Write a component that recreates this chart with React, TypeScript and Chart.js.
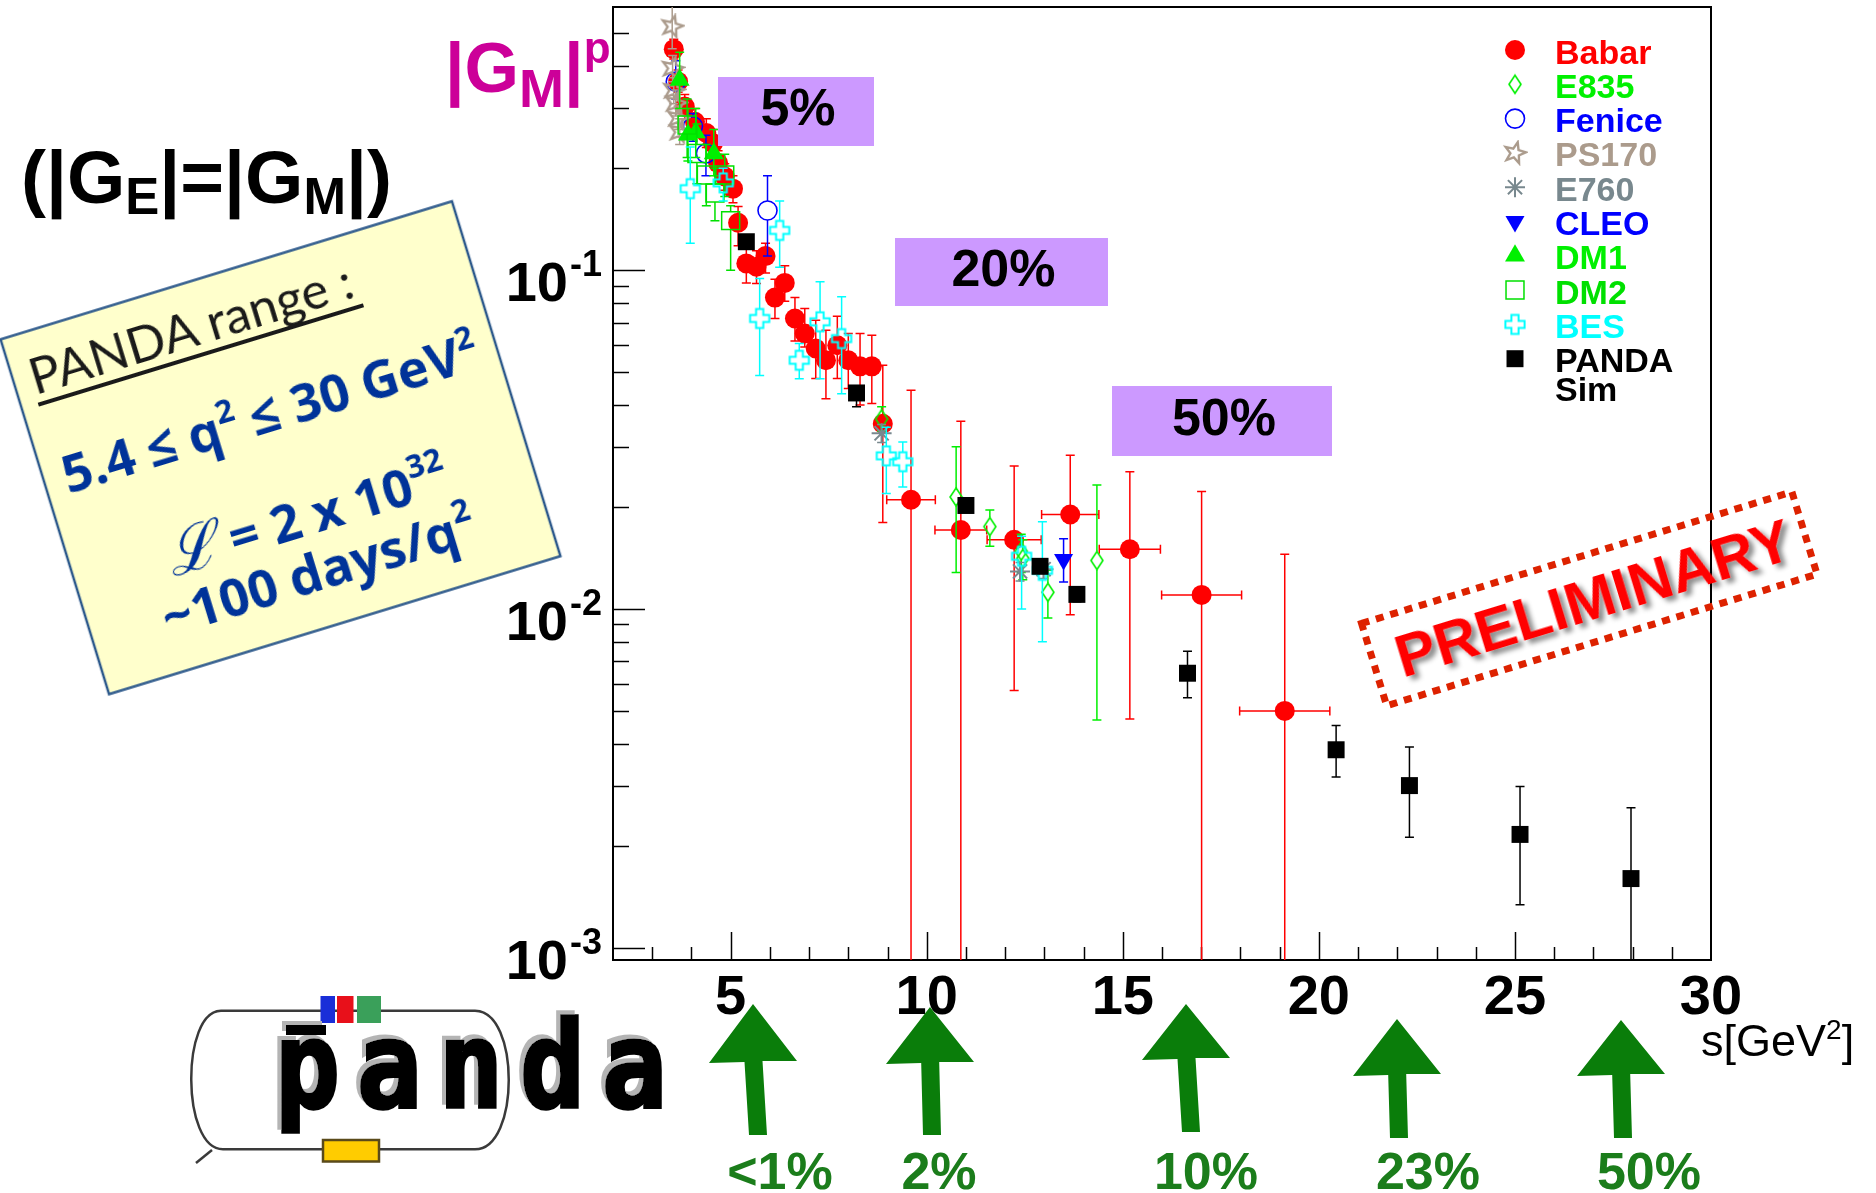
import React, { useEffect, useRef } from 'react';
import { Chart, registerables } from 'chart.js';
import { drawPoint } from 'chart.js/helpers';

Chart.register(...registerables);

// ---------------- data ----------------
const seriesNames = ['Babar', 'E835', 'Fenice', 'PS170', 'E760', 'CLEO', 'DM1', 'DM2', 'BES', 'PANDA Sim'];

const babarS = [3.55, 3.66, 3.83, 4.09, 4.38, 4.55, 4.68, 4.85, 5.06, 5.19, 5.40, 5.66, 5.89, 6.13, 6.38, 6.64, 6.89, 7.17, 7.43, 7.72, 8.00, 8.30, 8.60, 8.88, 9.60, 10.87, 12.23, 13.66, 15.18, 17.01, 19.13];
const babarG = [0.449, 0.360, 0.304, 0.274, 0.254, 0.237, 0.207, 0.189, 0.174, 0.138, 0.1047, 0.1023, 0.110, 0.083, 0.0917, 0.072, 0.065, 0.0587, 0.0542, 0.060, 0.0542, 0.052, 0.052, 0.0352, 0.0210, 0.0171, 0.0160, 0.0190, 0.0150, 0.0110, 0.0050];
const babarLo = [0.42, 0.335, 0.28, 0.25, 0.23, 0.215, 0.19, 0.172, 0.158, 0.118, 0.0917, 0.0913, 0.098, 0.072, 0.081, 0.0618, 0.0593, 0.0479, 0.0417, 0.0479, 0.0447, 0.040, 0.0404, 0.018, 0, 0, 0.00574, 0.00962, 0.00473, 0, 0];
const babarHi = [0.48, 0.39, 0.33, 0.30, 0.28, 0.26, 0.225, 0.206, 0.19, 0.154, 0.118, 0.114, 0.12, 0.094, 0.103, 0.083, 0.077, 0.0711, 0.0665, 0.0731, 0.065, 0.065, 0.0642, 0.0524, 0.0442, 0.0358, 0.0264, 0.0284, 0.0254, 0.0222, 0.0145];
const babarSErr = [0, 0, 0, 0, 0, 0, 0, 0, 0, 0, 0, 0, 0, 0, 0, 0, 0, 0, 0, 0, 0, 0, 0, 0, 0.62, 0.66, 0.69, 0.73, 0.78, 1.02, 1.15];

const e835S = [8.85, 10.75, 11.61, 12.41, 12.45, 13.09, 14.34];
const e835G = [0.0364, 0.0214, 0.0175, 0.0148, 0.0141, 0.0112, 0.0139];
const e835Lo = [0.0335, 0.0128, 0.0153, 0.0128, 0.0122, 0.0094, 0.0047];
const e835Hi = [0.0395, 0.0301, 0.0196, 0.0166, 0.0160, 0.0130, 0.0232];

const feniceS = [3.60, 4.04, 4.37, 5.94];
const feniceG = [0.360, 0.266, 0.221, 0.150];
const feniceLo = [0.32, 0.24, 0.19, 0.11];
const feniceHi = [0.415, 0.29, 0.25, 0.19];

const ps170S = [3.51, 3.52, 3.55, 3.60, 3.66, 3.70];
const ps170G = [0.524, 0.395, 0.340, 0.311, 0.281, 0.256];
const ps170Lo = [0.45, 0.36, 0.31, 0.285, 0.26, 0.235];
const ps170Hi = [0.70, 0.43, 0.37, 0.34, 0.305, 0.28];

const e760S = [8.85, 12.38, 12.98];
const e760G = [0.0330, 0.0129, 0.0131];
const e760Lo = [0.031, 0.0121, 0.0123];
const e760Hi = [0.035, 0.0137, 0.0140];

const cleoS = [13.49];
const cleoG = [0.0140];
const cleoLo = [0.0120];
const cleoHi = [0.0161];

const dm1S = [3.70, 3.91, 4.11, 4.57];
const dm1G = [0.364, 0.251, 0.255, 0.221];
const dm1Lo = [0.30, 0.21, 0.215, 0.19];
const dm1Hi = [0.44, 0.30, 0.30, 0.26];

const dm2S = [3.89, 4.14, 4.38, 4.60, 4.85, 5.00];
const dm2G = [0.268, 0.221, 0.191, 0.169, 0.191, 0.140];
const dm2Lo = [0.215, 0.18, 0.155, 0.14, 0.165, 0.10];
const dm2Hi = [0.32, 0.27, 0.235, 0.20, 0.22, 0.155];

const besS = [3.97, 4.81, 5.74, 6.25, 6.75, 7.28, 7.83, 8.97, 9.39, 12.42, 12.95];
const besG = [0.174, 0.181, 0.072, 0.131, 0.0542, 0.0704, 0.0628, 0.0283, 0.0272, 0.0143, 0.0130];
const besLo = [0.12, 0.16, 0.0489, 0.102, 0.0478, 0.0478, 0.0432, 0.0219, 0.0229, 0.0100, 0.0080];
const besHi = [0.231, 0.20, 0.0945, 0.16, 0.0607, 0.0924, 0.0834, 0.0344, 0.0311, 0.0164, 0.0181];

const pandaS = [5.40, 8.21, 11.00, 12.89, 13.83, 16.65, 20.44, 22.31, 25.13, 27.96];
const pandaG = [0.1213, 0.0434, 0.0202, 0.01336, 0.01104, 0.00646, 0.00384, 0.00301, 0.00216, 0.00160];
const pandaLo = [0.1185, 0.0395, 0.0196, 0.0130, 0.0105, 0.00547, 0.00319, 0.00212, 0.00134, 0];
const pandaHi = [0.124, 0.0456, 0.0208, 0.0137, 0.0116, 0.0075, 0.00453, 0.00391, 0.00299, 0.00259];

const xTickLabels = [5, 10, 15, 20, 25, 30];
const yTickExponents = [-1, -2, -3];
const precisionLabels = ['5%', '20%', '50%'];
const arrowLabels = ['<1%', '2%', '10%', '23%', '50%'];

// ---------------- styles ----------------
const ARIAL = '"Liberation Sans", Arial, Helvetica, sans-serif';
const C = {
  babar: '#ff0000', e835: '#00f000', fenice: '#0000ff', ps170: '#ab9b8c', e760: '#78888e',
  cleo: '#0000ff', dm1: '#00f000', dm2: '#00e000', bes: '#00ffff', panda: '#000000',
};

function makeCanvas(w: number, h: number, draw: (c: CanvasRenderingContext2D) => void) {
  const c = document.createElement('canvas');
  c.width = w; c.height = h;
  draw(c.getContext('2d') as CanvasRenderingContext2D);
  return c;
}

function pts(s: number[], g: number[], lo: number[], hi: number[], se?: number[]) {
  return s.map((x, i) => ({
    x, y: g[i], yl: lo[i], yh: hi[i],
    xl: se && se[i] > 0 ? x - se[i] : null,
    xh: se && se[i] > 0 ? x + se[i] : null,
  }));
}

const errorBarPlugin = {
  id: 'errorBars',
  beforeDatasetDraw(chart: any, args: any) {
    const ds = chart.data.datasets[args.index];
    const { ctx, chartArea: ca } = chart;
    const xs = chart.scales.x, ys = chart.scales.y;
    const gap = ds.errGap || 0;
    const cap = 4.5;
    ctx.save();
    ctx.beginPath();
    ctx.rect(ca.left, ca.top, ca.right - ca.left, ca.bottom - ca.top);
    ctx.clip();
    ctx.strokeStyle = ds.seriesColor;
    ctx.lineWidth = 1.5;
    ds.data.forEach((p: any) => {
      const px = xs.getPixelForValue(p.x), py = ys.getPixelForValue(p.y);
      ctx.beginPath();
      if (p.yh != null && p.yh > p.y) {
        const t = ys.getPixelForValue(p.yh);
        if (py - gap > t) { ctx.moveTo(px, py - gap); ctx.lineTo(px, t); }
        ctx.moveTo(px - cap, t); ctx.lineTo(px + cap, t);
      }
      if (p.yl != null && p.yl < p.y) {
        const b = p.yl > 0 ? ys.getPixelForValue(p.yl) : ca.bottom + 2;
        if (py + gap < b) { ctx.moveTo(px, py + gap); ctx.lineTo(px, b); }
        if (p.yl > 0) { ctx.moveTo(px - cap, b); ctx.lineTo(px + cap, b); }
      }
      if (p.xl != null) {
        const l = xs.getPixelForValue(p.xl), r = xs.getPixelForValue(p.xh);
        ctx.moveTo(l, py); ctx.lineTo(px - gap, py);
        ctx.moveTo(px + gap, py); ctx.lineTo(r, py);
        ctx.moveTo(l, py - cap); ctx.lineTo(l, py + cap);
        ctx.moveTo(r, py - cap); ctx.lineTo(r, py + cap);
      }
      ctx.stroke();
    });
    ctx.restore();
  },
};

const axesPlugin = {
  id: 'rootAxes',
  beforeDatasetsDraw(chart: any) {
    const { ctx, chartArea: ca } = chart;
    const xs = chart.scales.x, ys = chart.scales.y;
    ctx.save();
    ctx.strokeStyle = '#000';
    ctx.lineWidth = 1.5;
    for (let v = Math.ceil(xs.min); v <= xs.max; v++) {
      if (v <= xs.min || v >= xs.max) continue;
      const px = Math.round(xs.getPixelForValue(v)) + 0.5;
      const len = v % 5 === 0 ? 28 : 13;
      ctx.beginPath(); ctx.moveTo(px, ca.bottom); ctx.lineTo(px, ca.bottom - len); ctx.stroke();
    }
    for (let e = -4; e <= 0; e++) {
      for (let m = 1; m <= 9; m++) {
        const v = m * Math.pow(10, e);
        if (v <= ys.min || v >= ys.max) continue;
        const py = Math.round(ys.getPixelForValue(v)) + 0.5;
        const len = m === 1 ? 32 : 16;
        ctx.beginPath(); ctx.moveTo(ca.left, py); ctx.lineTo(ca.left + len, py); ctx.stroke();
      }
    }
    ctx.lineWidth = 2;
    ctx.strokeRect(ca.left, ca.top, ca.right - ca.left, ca.bottom - ca.top);

    ctx.fillStyle = '#000';
    ctx.textBaseline = 'alphabetic';
    ctx.font = `bold 56px ${ARIAL}`;
    ctx.textAlign = 'center';
    xTickLabels.forEach((v) => ctx.fillText(String(v), xs.getPixelForValue(v), ca.bottom + 54));
    yTickExponents.forEach((e) => {
      const py = ys.getPixelForValue(Math.pow(10, e));
      ctx.font = `bold 56px ${ARIAL}`;
      ctx.textAlign = 'right';
      ctx.fillText('10', ca.left - 45, py + 31);
      ctx.font = `bold 36px ${ARIAL}`;
      ctx.textAlign = 'left';
      ctx.fillText('-' + String(Math.abs(e)), ca.left - 43, py + 6);
    });
    ctx.restore();
  },
};

const legendPlugin = {
  id: 'rootLegend',
  afterDatasetsDraw(chart: any) {
    const { ctx, chartArea: ca } = chart;
    const mx = ca.right - 196, tx = ca.right - 156;
    const maxW = ca.right - tx - 4;
    ctx.save();
    ctx.textBaseline = 'alphabetic';
    ctx.textAlign = 'left';
    chart.data.datasets.forEach((ds: any, i: number) => {
      const y = ca.top + 43 + i * 34.3;
      ctx.fillStyle = ds.backgroundColor;
      ctx.strokeStyle = ds.borderColor;
      ctx.lineWidth = ds.pointBorderWidth;
      drawPoint(ctx, {
        pointStyle: ds.pointStyle, radius: ds.pointRadius, rotation: ds.pointRotation || 0,
        borderWidth: ds.pointBorderWidth,
      } as any, mx, y);
      ctx.font = `bold 34px ${ARIAL}`;
      ctx.fillStyle = ds.seriesColor;
      const lines: string[] = [];
      ds.label.split(' ').forEach((w: string) => {
        const last = lines.length ? lines[lines.length - 1] : null;
        if (last !== null && ctx.measureText(last + ' ' + w).width <= maxW) lines[lines.length - 1] = last + ' ' + w;
        else lines.push(w);
      });
      lines.forEach((ln, k) => ctx.fillText(ln, tx, y + 13.5 + k * 29));
    });
    ctx.restore();
  },
};

function arrowPoints(tx: number, ty: number, baseY: number, bx: number, by: number) {
  const hw = 44, sw = 9;
  const sx = tx + (bx - tx) * 0.1;
  return [
    [tx, ty], [tx + hw, baseY - 1], [sx + sw, baseY - 1], [bx + sw, by], [bx - sw, by],
    [sx - sw, baseY], [tx - hw, baseY + 1],
  ].map((p) => p.join(',')).join(' ');
}

const arrows = [
  { tx: 753, ty: 1004, baseY: 1062, bx: 758, by: 1135, lx: 780 },
  { tx: 930, ty: 1007, baseY: 1063, bx: 932, by: 1135, lx: 939 },
  { tx: 1186, ty: 1004, baseY: 1059, bx: 1191, by: 1132, lx: 1206 },
  { tx: 1397, ty: 1019, baseY: 1075, bx: 1399, by: 1138, lx: 1428 },
  { tx: 1621, ty: 1020, baseY: 1075, bx: 1623, by: 1138, lx: 1649 },
];

const purpleBoxes = [
  { x: 718, y: 77, w: 156, h: 69 },
  { x: 895, y: 238, w: 213, h: 68 },
  { x: 1112, y: 386, w: 220, h: 70 },
];

export default function App() {
  const ref = useRef<HTMLCanvasElement>(null);

  useEffect(() => {
    const diamond = makeCanvas(16, 22, (c) => {
      c.strokeStyle = C.e835; c.lineWidth = 1.6;
      c.beginPath(); c.moveTo(8, 2); c.lineTo(14, 11); c.lineTo(8, 20); c.lineTo(2, 11); c.closePath(); c.stroke();
    });
    const star5 = makeCanvas(26, 26, (c) => {
      c.strokeStyle = C.ps170; c.lineWidth = 2.4;
      c.beginPath();
      for (let k = 0; k < 10; k++) {
        const r = k % 2 === 0 ? 11 : 4.6;
        const a = -Math.PI / 2 + 0.25 + (k * Math.PI) / 5;
        const px = 13 + r * Math.cos(a), py = 13 + r * Math.sin(a);
        if (k === 0) c.moveTo(px, py); else c.lineTo(px, py);
      }
      c.closePath(); c.stroke();
    });
    const openCross = makeCanvas(24, 24, (c) => {
      const a = 3.6, L = 9.6, o = 12;
      const p = [[-a, -L], [a, -L], [a, -a], [L, -a], [L, a], [a, a], [a, L], [-a, L], [-a, a], [-L, a], [-L, -a], [-a, -a]];
      c.strokeStyle = C.bes; c.lineWidth = 2;
      c.beginPath();
      p.forEach(([x, y], i) => (i ? c.lineTo(o + x, o + y) : c.moveTo(o + x, o + y)));
      c.closePath(); c.stroke();
    });

    const defs = [
      { data: pts(babarS, babarG, babarLo, babarHi, babarSErr), color: C.babar, style: 'circle', r: 10, fill: C.babar, bw: 0, gap: 0 },
      { data: pts(e835S, e835G, e835Lo, e835Hi), color: C.e835, style: diamond, r: 9, fill: 'rgba(0,0,0,0)', bw: 0, gap: 9 },
      { data: pts(feniceS, feniceG, feniceLo, feniceHi), color: C.fenice, style: 'circle', r: 9.5, fill: 'rgba(0,0,0,0)', bw: 1.6, gap: 9.5 },
      { data: pts(ps170S, ps170G, ps170Lo, ps170Hi), color: C.ps170, style: star5, r: 10, fill: 'rgba(0,0,0,0)', bw: 0, gap: 0 },
      { data: pts(e760S, e760G, e760Lo, e760Hi), color: C.e760, style: 'star', r: 10, fill: 'rgba(0,0,0,0)', bw: 2, gap: 0 },
      { data: pts(cleoS, cleoG, cleoLo, cleoHi), color: C.cleo, style: 'triangle', r: 11, fill: C.cleo, bw: 0, gap: 0, rot: 180 },
      { data: pts(dm1S, dm1G, dm1Lo, dm1Hi), color: C.dm1, style: 'triangle', r: 11.5, fill: C.dm1, bw: 0, gap: 0 },
      { data: pts(dm2S, dm2G, dm2Lo, dm2Hi), color: C.dm2, style: 'rect', r: 12.7, fill: 'rgba(0,0,0,0)', bw: 1.5, gap: 9 },
      { data: pts(besS, besG, besLo, besHi), color: C.bes, style: openCross, r: 10, fill: 'rgba(0,0,0,0)', bw: 0, gap: 9.6 },
      { data: pts(pandaS, pandaG, pandaLo, pandaHi), color: C.panda, style: 'rect', r: 12, fill: C.panda, bw: 0, gap: 0 },
    ];

    const datasets = defs.map((d, i) => ({
      label: seriesNames[i],
      data: d.data,
      seriesColor: d.color,
      errGap: d.gap,
      order: defs.length - i,
      showLine: false,
      pointStyle: d.style as any,
      pointRadius: d.r,
      pointHoverRadius: d.r,
      pointRotation: (d as any).rot || 0,
      pointBorderWidth: d.bw,
      pointBackgroundColor: d.fill,
      pointBorderColor: d.color,
      backgroundColor: d.fill,
      borderColor: d.color,
      clip: 0,
    }));

    const chart = new Chart(ref.current as HTMLCanvasElement, {
      type: 'scatter',
      data: { datasets: datasets as any },
      options: {
        animation: false,
        responsive: false,
        devicePixelRatio: 1,
        events: [],
        layout: { autoPadding: false, padding: { left: 613, top: 7, right: 165, bottom: 233 } },
        plugins: { legend: { display: false }, tooltip: { enabled: false } },
        scales: {
          x: { type: 'linear', min: 2, max: 30, display: false },
          y: { type: 'logarithmic', min: 0.00092, max: 0.598, display: false },
        },
      },
      plugins: [axesPlugin, errorBarPlugin, legendPlugin],
    } as any);
    return () => chart.destroy();
  }, []);

  const blue = '#003399';
  const openSans = '"Open Sans", "Noto Sans", sans-serif';
  return (
    <div style={{ position: 'absolute', left: 0, top: 0, width: 1876, height: 1193, overflow: 'hidden', background: '#fff' }}>
      <canvas ref={ref} width={1876} height={1193} style={{ position: 'absolute', left: 0, top: 0, width: 1876, height: 1193 }} />
      <svg width={1876} height={1193} style={{ position: 'absolute', left: 0, top: 0, pointerEvents: 'none' }}>
        <defs>
          <filter id="prelimShadow" x="-10%" y="-40%" width="125%" height="190%">
            <feDropShadow dx="4" dy="5" stdDeviation="2.5" floodColor="#000" floodOpacity="0.45" />
          </filter>
          <filter id="pandaShadow" x="-10%" y="-10%" width="120%" height="120%">
            <feDropShadow dx="-4" dy="-4" stdDeviation="0" floodColor="#b4b4b4" floodOpacity="1" />
          </filter>
        </defs>

        {/* axis title */}
        <text x={445} y={92} fill="#cc0099" fontFamily={ARIAL} fontWeight="bold" fontSize={70}>
          |G<tspan fontSize={54} dy={15}>M</tspan><tspan dy={-15}>|</tspan><tspan fontSize={44} dy={-29}>p</tspan>
        </text>
        <text x={21} y={203} fill="#000" fontFamily={ARIAL} fontWeight="bold" fontSize={75}>
          (|G<tspan fontSize={51} dy={11}>E</tspan><tspan dy={-11}>|=|G</tspan><tspan fontSize={51} dy={11}>M</tspan><tspan dy={-11}>|)</tspan>
        </text>

        {/* PANDA range box */}
        <g transform="translate(280.5 447.75) rotate(-17)">
          <rect x={-236} y={-185.5} width={472} height={371} fill="#ffffcc" stroke="#2e5a8c" strokeWidth={2.5} />
          <text x={-219} y={-122} fill="#1a1a1a" fontFamily='Lato, "Open Sans", sans-serif' fontSize={51}>PANDA range :</text>
          <line x1={-219} y1={-112} x2={121} y2={-112} stroke="#1a1a1a" strokeWidth={4} />
          <text x={0} y={-18} fill={blue} fontFamily={openSans} fontWeight={700} fontSize={52} textAnchor="middle">
            {'5.4 ≤ q'}<tspan fontSize={32} dy={-22}>2</tspan><tspan dy={22}>{' ≤ 30 GeV'}</tspan><tspan fontSize={32} dy={-22}>2</tspan>
          </text>
          <text x={5} y={92} fill={blue} fontFamily={openSans} fontWeight={700} fontSize={52} textAnchor="middle">
            <tspan fontFamily='"DejaVu Serif", serif' fontStyle="italic" fontWeight={400} fontSize={62}>ℒ</tspan><tspan>{' = 2 x 10'}</tspan><tspan fontSize={32} dy={-24}>32</tspan>
          </text>
          <text x={0} y={148} fill={blue} fontFamily={openSans} fontWeight={700} fontSize={52} textAnchor="middle">
            {'~100 days/q'}<tspan fontSize={32} dy={-24}>2</tspan>
          </text>
        </g>

        {/* precision boxes */}
        {purpleBoxes.map((b, i) => (
          <g key={'pb' + i}>
            <rect x={b.x} y={b.y} width={b.w} height={b.h} fill="#cc99ff" />
            <text x={b.x + b.w / 2 + 2} y={b.y + b.h / 2 - 5 + 18.6} textAnchor="middle" fontFamily={ARIAL} fontWeight="bold" fontSize={52} fill="#000">
              {precisionLabels[i]}
            </text>
          </g>
        ))}

        {/* PRELIMINARY stamp */}
        <g transform="translate(1589.3 598.8) rotate(-17)">
          <rect x={-225} y={-43} width={450} height={86} fill="none" stroke="#dd2200" strokeWidth={7} strokeDasharray="8 7" />
          <text x={4} y={21} textAnchor="middle" fontFamily={ARIAL} fontWeight="bold" fontSize={60} fill="#ff0000" filter="url(#prelimShadow)">
            PRELIMINARY
          </text>
        </g>

        {/* panda logo */}
        <g>
          <path d="M221,1010.7 L475,1010.7 C520,1010.7 520,1149.3 475,1149.3 L223,1149.3 C181,1149.3 181,1010.7 221,1010.7 Z" fill="none" stroke="#3a3a3a" strokeWidth={2.5} />
          <line x1={212} y1={1150} x2={196} y2={1163} stroke="#3a3a3a" strokeWidth={2.5} />
          <rect x={320.5} y={996} width={14.5} height={27} fill="#1a2ed8" />
          <rect x={337} y={996} width={16.5} height={27} fill="#e8101a" />
          <rect x={357} y={996} width={24} height={27} fill="#3aa05a" />
          <rect x={323} y={1140} width={56} height={21.5} fill="#ffcc00" stroke="#5a4a1a" strokeWidth={2.5} />
          <g filter="url(#pandaShadow)">
            <rect x={286} y={1025} width={40} height={10} fill="#000" />
            <g transform="translate(285 0) scale(0.9 1)">
              <text x={-11} y={1107} fontFamily='"DejaVu Sans Mono", monospace' fontWeight="bold" fontSize={120} letterSpacing={18.5} fill="#000" stroke="#000" strokeWidth={3.5}>panda</text>
            </g>
          </g>
        </g>

        {/* arrows */}
        {arrows.map((a, i) => (
          <g key={'ar' + i}>
            <polygon points={arrowPoints(a.tx, a.ty, a.baseY, a.bx, a.by)} fill="#0a7d0a" />
            <text x={a.lx} y={1189} textAnchor="middle" fontFamily={ARIAL} fontWeight="bold" fontSize={52} fill="#1b7d1b">
              {arrowLabels[i]}
            </text>
          </g>
        ))}

        {/* x axis title */}
        <text x={1701} y={1056} fontFamily={ARIAL} fontSize={45} fill="#000">
          s[GeV<tspan fontSize={28} dy={-17}>2</tspan><tspan dy={17}>]</tspan>
        </text>
      </svg>
    </div>
  );
}
